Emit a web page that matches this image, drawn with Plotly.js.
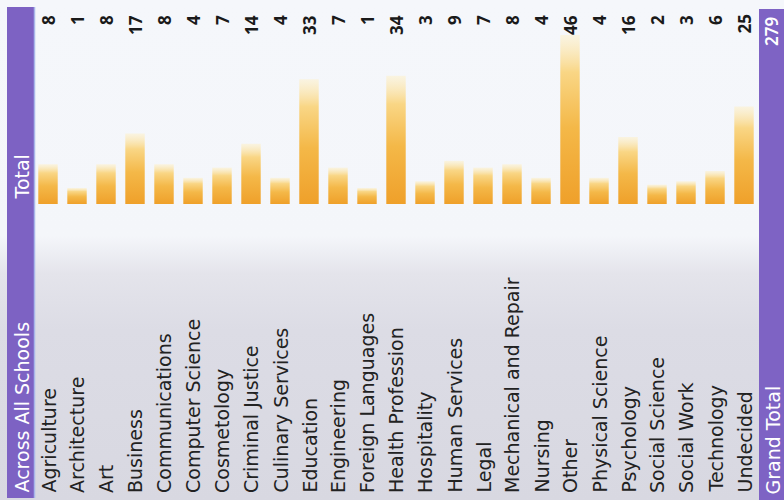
<!DOCTYPE html>
<html>
<head>
<meta charset="utf-8">
<script src="https://cdn.plot.ly/plotly-3.0.1.min.js"></script>
<style>
  html, body { margin: 0; padding: 0; }
  body {
    width: 784px; height: 500px; overflow: hidden;
    background: linear-gradient(to bottom, #f5f7fb 0px, #f4f6fa 236px, #e4e4eb 274px, #dcdce5 330px, #d8d8e1 500px);
  }
  #chart { width: 784px; height: 500px; }
</style>
</head>
<body>
<div id="chart"></div>
<script>
// Intended majors, totals across all schools
const categories = [
  "Agriculture", "Architecture", "Art", "Business", "Communications",
  "Computer Science", "Cosmetology", "Criminal Justice", "Culinary Services",
  "Education", "Engineering", "Foreign Languages", "Health Profession",
  "Hospitality", "Human Services", "Legal", "Mechanical and Repair", "Nursing",
  "Other", "Physical Science", "Psychology", "Social Science", "Social Work",
  "Technology", "Undecided"
];
const totals = [8, 1, 8, 17, 8, 4, 7, 14, 4, 33, 7, 1, 34, 3, 9, 7, 8, 4, 46, 4, 16, 2, 3, 6, 25];
const grandTotal = 279;
const rowHeader = "Total";
const columnHeader = "Across All Schools";
const grandTotalLabel = "Grand Total";

const W = 784, H = 500;
const BASE_PX = 204;       // pixel row of the bar baseline
const PX_PER_UNIT = 3.4;   // vertical scale
const STUB = 3.7;          // small visible foot under every bar
const CAT_STEP = 29;       // pixels between category centres
const FIRST_CENTER = 48;

const yRange = [-STUB - (H - BASE_PX) / PX_PER_UNIT, -STUB + BASE_PX / PX_PER_UNIT];
const xStart = -FIRST_CENTER / CAT_STEP;
const xRange = [xStart, xStart + W / CAT_STEP];

const py = p => 1 - p / H;
const px = p => p / W;

const bars = {
  type: "bar",
  x: categories,
  y: totals.map(v => v + STUB),
  base: -STUB,
  marker: { color: "#f0a52c", line: { width: 0 } },
  hoverinfo: "skip"
};

const labelFont = { family: "DejaVu Sans", size: 19, color: "#222222" };
const valueFont = { family: "Noto Sans", size: 17, color: "#1a1a1a", weight: 700 };
const headFont = { family: "DejaVu Sans", size: 19, color: "#ffffff" };

const annotations = [];
categories.forEach((c, i) => {
  annotations.push({
    x: c, xref: "x", y: py(495), yref: "paper",
    text: c, textangle: -90, showarrow: false,
    xanchor: "center", yanchor: "bottom", font: labelFont
  });
  annotations.push({
    x: c, xref: "x", y: py(13), yref: "paper",
    text: String(totals[i]), textangle: -90, showarrow: false,
    xanchor: "center", yanchor: "top", font: valueFont
  });
});
annotations.push(
  { x: px(21), xref: "paper", y: py(202), yref: "paper", text: rowHeader,
    textangle: -90, showarrow: false, xanchor: "center", yanchor: "bottom", font: headFont },
  { x: px(21), xref: "paper", y: py(495), yref: "paper", text: columnHeader,
    textangle: -90, showarrow: false, xanchor: "center", yanchor: "bottom", font: headFont },
  { x: px(772), xref: "paper", y: py(497), yref: "paper", text: grandTotalLabel,
    textangle: -90, showarrow: false, xanchor: "center", yanchor: "bottom", font: headFont },
  { x: px(771.5), xref: "paper", y: py(15), yref: "paper", text: String(grandTotal),
    textangle: -90, showarrow: false, xanchor: "center", yanchor: "top",
    font: { family: "Noto Sans", size: 17, color: "#ffffff", weight: 600 } }
);

const shapes = [
  { type: "rect", xref: "paper", yref: "paper", x0: px(7), x1: px(34), y0: py(498), y1: py(7),
    fillcolor: "#7d62c3", line: { width: 0 }, layer: "below" },
  { type: "line", xref: "paper", yref: "paper", x0: px(34.5), x1: px(34.5), y0: py(498), y1: py(7),
    line: { color: "#a9b6ea", width: 1.5 }, layer: "below" },
  { type: "rect", xref: "paper", yref: "paper", x0: px(759), x1: px(784), y0: py(500), y1: py(9),
    fillcolor: "#7e63c4", line: { width: 0 }, layer: "below" }
];

const layout = {
  width: W, height: H,
  margin: { l: 0, r: 0, t: 0, b: 0, pad: 0 },
  paper_bgcolor: "rgba(0,0,0,0)",
  plot_bgcolor: "rgba(0,0,0,0)",
  showlegend: false,
  bargap: 0.33,
  xaxis: { range: xRange, showticklabels: false, showgrid: false, zeroline: false,
           showline: false, ticks: "", fixedrange: true },
  yaxis: { range: yRange, showticklabels: false, showgrid: false, zeroline: false,
           showline: false, ticks: "", fixedrange: true },
  annotations: annotations,
  shapes: shapes
};

// Each bar fades from warm orange at its foot to pale cream at its top
function shadeBars(gd) {
  const svg = gd.querySelector(".main-svg");
  let defs = svg.querySelector("defs");
  const NS = "http://www.w3.org/2000/svg";
  if (!defs) { defs = document.createElementNS(NS, "defs"); svg.insertBefore(defs, svg.firstChild); }
  const grad = document.createElementNS(NS, "linearGradient");
  grad.setAttribute("id", "barFade");
  grad.setAttribute("x1", "0"); grad.setAttribute("y1", "1");
  grad.setAttribute("x2", "0"); grad.setAttribute("y2", "0");
  [["0", "#efa02a", 1], ["0.45", "#f4b848", 1], ["0.78", "#f9d685", 1], ["1", "#fdf1cc", 0.55]]
    .forEach(([o, c, a]) => {
      const s = document.createElementNS(NS, "stop");
      s.setAttribute("offset", o);
      s.setAttribute("stop-color", c);
      s.setAttribute("stop-opacity", a);
      grad.appendChild(s);
    });
  defs.appendChild(grad);
  gd.querySelectorAll(".bars path").forEach(p => { p.style.fill = "url(#barFade)"; });
}

Plotly.newPlot("chart", [bars], layout, { displayModeBar: false, staticPlot: true })
  .then(shadeBars);
</script>
</body>
</html>
